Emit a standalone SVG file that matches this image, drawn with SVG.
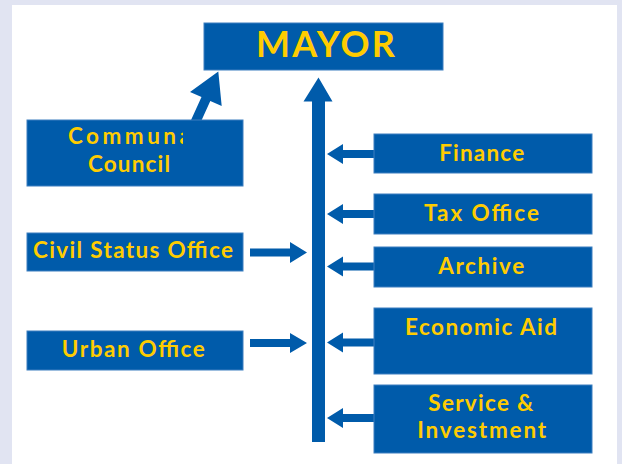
<svg xmlns="http://www.w3.org/2000/svg" width="622" height="464" viewBox="0 0 622 464">
  <defs>
    <style>
      .box { fill: #005BAA; stroke: #3D7FC0; stroke-width: 1; }
      .lbl { fill: #FFCC00; font-family: Lato, "Open Sans", "Liberation Sans", sans-serif; font-weight: bold; font-size: 22.5px; text-anchor: middle; }
      .arrow { fill: #005BAA; }
    </style>
    <clipPath id="councilClip">
      <rect x="27" y="120" width="156" height="66"/>
    </clipPath>
  </defs>

  <!-- page background and white panel -->
  <rect x="0" y="0" width="622" height="464" fill="#E1E4F2"/>
  <rect x="12" y="5" width="605" height="459" fill="#FFFFFF"/>

  <!-- connectors -->
  <g id="connectors">
    <!-- main trunk into the mayor -->
    <polygon class="arrow" points="312,442 312,101.5 303.5,101.5 318.5,77.5 332.5,101.5 325,101.5 325,442"/>
    <!-- council to mayor (diagonal) -->
    <polygon class="arrow" points="218.3,71.5 221.7,106 210.3,101 198.5,127 189.7,123 201.5,97 190,92"/>
    <!-- left offices into trunk -->
    <polygon class="arrow" points="250,248.5 290,248.5 290,242 307,252.5 290,263 290,256.5 250,256.5"/>
    <polygon class="arrow" points="250,339 290,339 290,333 307,343 290,353 290,347 250,347"/>
    <!-- right offices into trunk -->
    <polygon class="arrow" points="374,150 343,150 343,144 327,154 343,164 343,158 374,158"/>
    <polygon class="arrow" points="374,210 343,210 343,204 327,214 343,224 343,218 374,218"/>
    <polygon class="arrow" points="374,262.5 343,262.5 343,256.5 327,266.5 343,276.5 343,270.5 374,270.5"/>
    <polygon class="arrow" points="374,338.5 343,338.5 343,332.5 327,342.5 343,352.5 343,346.5 374,346.5"/>
    <polygon class="arrow" points="374,414 343,414 343,408 327,418 343,428 343,422 374,422"/>
  </g>

  <g id="mayor">
    <rect class="box" x="204" y="23" width="239" height="47"/>
    <text class="lbl" x="325.5" y="56.7" style="font-size:36px" textLength="139">MAYOR</text>
  </g>

  <g id="communal-council">
    <rect class="box" x="27" y="120" width="216" height="66"/>
    <g clip-path="url(#councilClip)">
      <text class="lbl" x="68" y="144.3" style="text-anchor:start" textLength="132">Communal</text>
      <text class="lbl" x="129" y="171.7" textLength="82">Council</text>
    </g>
  </g>

  <g id="civil-status-office">
    <rect class="box" x="27" y="233" width="216" height="38"/>
    <text class="lbl" x="133" y="258.3" textLength="200">Civil Status Office</text>
  </g>

  <g id="urban-office">
    <rect class="box" x="27" y="331" width="216" height="39"/>
    <text class="lbl" x="133.3" y="356.7" textLength="143">Urban Office</text>
  </g>

  <g id="finance">
    <rect class="box" x="374" y="134" width="218" height="39"/>
    <text class="lbl" x="481.7" y="160.7" textLength="85">Finance</text>
  </g>

  <g id="tax-office">
    <rect class="box" x="374" y="194" width="218" height="40"/>
    <text class="lbl" x="481.5" y="220.7" textLength="115">Tax Office</text>
  </g>

  <g id="archive">
    <rect class="box" x="374" y="247" width="218" height="40"/>
    <text class="lbl" x="481.2" y="274" textLength="86">Archive</text>
  </g>

  <g id="economic-aid">
    <rect class="box" x="374" y="308" width="218" height="66"/>
    <text class="lbl" x="481" y="335" textLength="152">Economic Aid</text>
  </g>

  <g id="service-investment">
    <rect class="box" x="374" y="385" width="218" height="68"/>
    <text class="lbl" x="480.8" y="410.7" textLength="105">Service &amp;</text>
    <text class="lbl" x="481.7" y="438.3" textLength="129">Investment</text>
  </g>
</svg>
